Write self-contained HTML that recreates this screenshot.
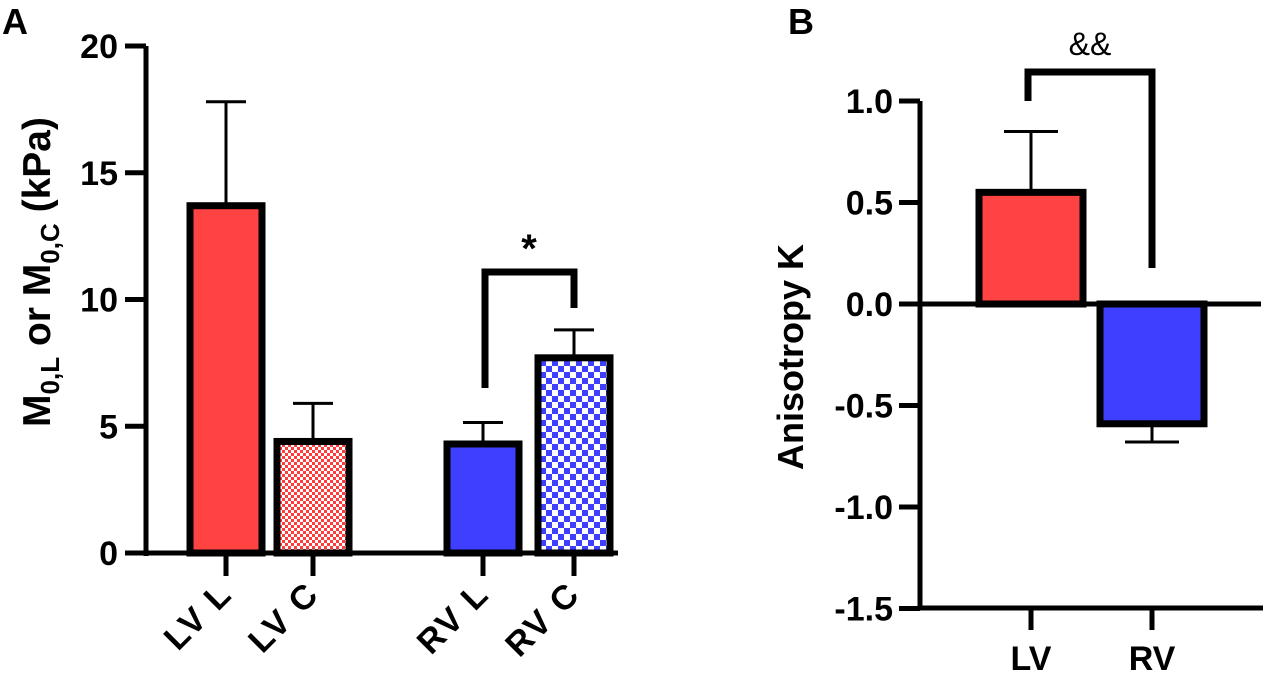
<!DOCTYPE html>
<html><head><meta charset="utf-8"><style>
html,body{margin:0;padding:0;background:#fff;}
svg{display:block;font-family:"Liberation Sans",Arial,sans-serif;font-weight:bold;}
</style></head><body>
<svg id="chart" width="1267" height="676" viewBox="0 0 1267 676" xmlns="http://www.w3.org/2000/svg">
<defs>
<pattern id="redChk" width="6" height="6" patternUnits="userSpaceOnUse">
<rect width="6" height="6" fill="#fff"/><rect width="3" height="3" fill="#ff3b3b"/><rect x="3" y="3" width="3" height="3" fill="#ff3b3b"/>
</pattern>
<pattern id="blueChk" width="12" height="12" patternUnits="userSpaceOnUse">
<rect width="12" height="12" fill="#fff"/><rect width="6" height="6" fill="#3f3fff"/><rect x="6" y="6" width="6" height="6" fill="#3f3fff"/>
</pattern>
</defs>
<text x="2" y="34" font-size="36">A</text>
<text x="788" y="34" font-size="36">B</text>
<g id="pa"></g>
<g id="pb"></g>
</svg>
<script>
const catsA = ["LV L","LV C","RV L","RV C"];
const valsA = [13.7, 4.4, 4.3, 7.7];
const errA = [17.8, 5.9, 5.15, 8.8];
const ticksA = [0,5,10,15,20];
const catsB = ["LV","RV"];
const valsB = [0.55, -0.59];
const errB = [0.85, -0.68];
const ticksB = [1.0,0.5,0.0,-0.5,-1.0,-1.5];

const NS="http://www.w3.org/2000/svg";
function mk(parent,tag,attrs){const e=document.createElementNS(NS,tag);for(const k in attrs)e.setAttribute(k,attrs[k]);parent.appendChild(e);return e;}

// Panel A
const pa=document.getElementById('pa');
const yA=v=>553-(v/20)*507;
const cxA=[226,313,483,574];
const fillsA=["#ff4242","url(#redChk)","#3f3fff","url(#blueChk)"];
let ax=mk(pa,'line',{x1:146,y1:yA(20),x2:146,y2:556,stroke:'#000','stroke-width':5});

ax=mk(pa,'line',{x1:144,y1:553,x2:618,y2:553,stroke:'#000','stroke-width':5});

ticksA.forEach(t=>{
 const l=mk(pa,'line',{x1:125,y1:yA(t),x2:146,y2:yA(t),stroke:'#000','stroke-width':5});
 
 const tx=mk(pa,'text',{x:118,y:yA(t)+12,'font-size':34,'text-anchor':'end'});tx.textContent=t;
 
});
catsA.forEach((c,i)=>{
 const cx=cxA[i],w=72;
 const e=mk(pa,'line',{x1:cx,y1:yA(errA[i]),x2:cx,y2:yA(valsA[i]),stroke:'#000','stroke-width':3});
 
 const cap=mk(pa,'line',{x1:cx-20,y1:yA(errA[i]),x2:cx+20,y2:yA(errA[i]),stroke:'#000','stroke-width':3});
 
 const r=mk(pa,'rect',{x:cx-w/2,y:yA(valsA[i]),width:w,height:553-yA(valsA[i]),fill:fillsA[i],stroke:'#000','stroke-width':7});
 
 const tk=mk(pa,'line',{x1:cx,y1:553,x2:cx,y2:576,stroke:'#000','stroke-width':5});
 
 const lb=mk(pa,'text',{x:cx+8,y:596,'font-size':34,'text-anchor':'end','letter-spacing':2,transform:`rotate(-45 ${cx+8} 596)`});lb.textContent=c;
 
});
let br=mk(pa,'polyline',{points:`485,388 485,272 574,272 574,308`,fill:'none',stroke:'#000','stroke-width':7});

let st=mk(pa,'text',{x:529,y:262,'font-size':40,'text-anchor':'middle'});st.textContent='*';

let yt=mk(pa,'text',{x:0,y:0,'font-size':39,'text-anchor':'middle',transform:'translate(50,272) rotate(-90)'});
yt.innerHTML='M<tspan font-size="26" dy="9">0,L</tspan><tspan dy="-9"> or M</tspan><tspan font-size="26" dy="9">0,C</tspan><tspan dy="-9"> (kPa)</tspan>';


// Panel B
const pb=document.getElementById('pb');
const yB=v=>304-(v/0.5)*101.5;
const cxB=[1031,1152];
const fillsB=["#ff4242","#3f3fff"];
ax=mk(pb,'line',{x1:920,y1:yB(1.0),x2:920,y2:610,stroke:'#000','stroke-width':5});

ax=mk(pb,'line',{x1:918,y1:608,x2:1263,y2:608,stroke:'#000','stroke-width':5});

ax=mk(pb,'line',{x1:918,y1:yB(0),x2:1261,y2:yB(0),stroke:'#000','stroke-width':5});

ticksB.forEach(t=>{
 const l=mk(pb,'line',{x1:899,y1:yB(t),x2:920,y2:yB(t),stroke:'#000','stroke-width':5});
 
 const tx=mk(pb,'text',{x:893,y:yB(t)+12,'font-size':34,'text-anchor':'end'});tx.textContent=t.toFixed(1);
 
});
catsB.forEach((c,i)=>{
 const cx=cxB[i],w=104;
 const e=mk(pb,'line',{x1:cx,y1:yB(errB[i]),x2:cx,y2:yB(valsB[i]),stroke:'#000','stroke-width':3});
 
 const cap=mk(pb,'line',{x1:cx-27,y1:yB(errB[i]),x2:cx+27,y2:yB(errB[i]),stroke:'#000','stroke-width':3});
 
 const top=Math.min(yB(valsB[i]),yB(0)),h=Math.abs(yB(valsB[i])-yB(0));
 const r=mk(pb,'rect',{x:cx-w/2,y:top,width:w,height:h,fill:fillsB[i],stroke:'#000','stroke-width':7});
 
 const tk=mk(pb,'line',{x1:cx,y1:608,x2:cx,y2:630,stroke:'#000','stroke-width':5});
 
 const lb=mk(pb,'text',{x:cx,y:670,'font-size':34,'text-anchor':'middle'});lb.textContent=c;
 
});
br=mk(pb,'polyline',{points:`1028,101 1028,72 1152,72 1152,268`,fill:'none',stroke:'#000','stroke-width':7});

st=mk(pb,'text',{x:1090,y:55,'font-size':32,'text-anchor':'middle','font-weight':'normal'});st.textContent='&&';

yt=mk(pb,'text',{x:0,y:0,'font-size':36,'text-anchor':'middle',transform:'translate(803,357) rotate(-90)'});yt.textContent='Anisotropy K';

</script>
</body></html>
